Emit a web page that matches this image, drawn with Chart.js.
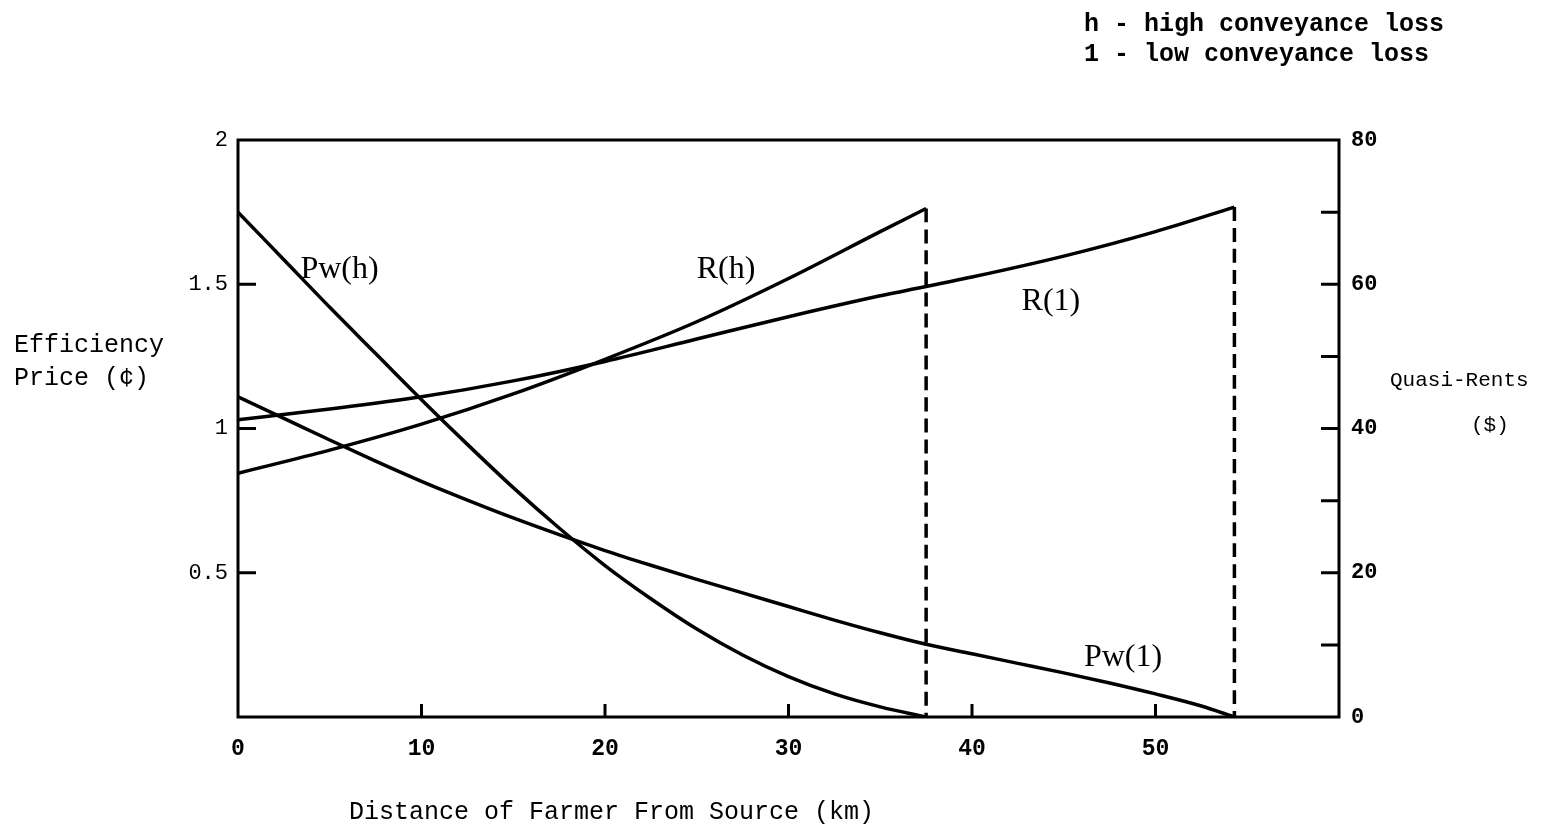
<!DOCTYPE html>
<html>
<head>
<meta charset="utf-8">
<script src="https://cdn.jsdelivr.net/npm/chart.js@4/dist/chart.umd.min.js"></script>
<style>
  html, body { margin: 0; padding: 0; background: #fff; }
  #wrap { width: 1563px; height: 828px; }
</style>
</head>
<body>
<div id="wrap"><canvas id="chart" width="1563" height="828"></canvas></div>
<script>
'use strict';

// distance (km) and efficiency price (cents)
const distancePwHigh = [0, 2.5, 5, 7.5, 10, 12.5, 15, 17.5, 20, 22.5, 25, 27.5, 30, 32.5, 35, 37.5];
const pwHigh = [1.75, 1.585, 1.42, 1.26, 1.10, 0.945, 0.795, 0.655, 0.525, 0.41, 0.305, 0.215, 0.14, 0.08, 0.035, 0];

const distancePwLow = [0, 2.5, 5, 7.5, 10, 12.5, 15, 17.5, 20, 22.5, 25, 27.5, 30, 32.5, 35, 37.5, 40, 42.5, 45, 47.5, 50, 52.5, 54.3];
const pwLow = [1.11, 1.035, 0.96, 0.887, 0.817, 0.752, 0.69, 0.632, 0.577, 0.526, 0.477, 0.43, 0.383, 0.336, 0.292, 0.252, 0.219, 0.186, 0.153, 0.118, 0.08, 0.038, 0];

// distance (km) and quasi-rents ($)
const distanceRentHigh = [0, 5, 10, 15, 20, 25, 30, 35, 37.5];
const rentHigh = [33.8, 37.0, 40.6, 44.8, 49.6, 54.8, 60.8, 67.3, 70.5];

const distanceRentLow = [0, 5, 10, 15, 20, 25, 30, 35, 40, 45, 50, 54.3];
const rentLow = [41.2, 42.7, 44.4, 46.6, 49.3, 52.4, 55.5, 58.4, 61.0, 63.9, 67.3, 70.7];

const xTicks = [0, 10, 20, 30, 40, 50];
const priceTicks = [0.5, 1, 1.5, 2];
const rentTicks = [0, 20, 40, 60, 80];
const rentMinorTicks = [10, 30, 50, 70];

const curveLabels = [
  { text: 'Pw(h)', x: 3.4, y: 1.55, axis: 'y' },
  { text: 'R(h)', x: 25.0, y: 1.55, axis: 'y' },
  { text: 'R(1)', x: 42.7, y: 1.44, axis: 'y' },
  { text: 'Pw(1)', x: 46.1, y: 0.205, axis: 'y' },
];

const INK = '#000';
const MONO = '"Liberation Mono", "DejaVu Sans Mono", monospace';
const SERIF = '"Liberation Serif", "DejaVu Serif", serif';

function toPoints(xs, ys) {
  return xs.map((x, i) => ({ x, y: ys[i] }));
}

function lineSet(label, xs, ys, axis, dashed) {
  return {
    label,
    data: toPoints(xs, ys),
    yAxisID: axis,
    borderColor: INK,
    borderWidth: 3.5,
    borderDash: dashed ? [14, 7] : [],
    pointRadius: 0,
    cubicInterpolationMode: 'monotone',
    fill: false,
  };
}

const cutHigh = distanceRentHigh[distanceRentHigh.length - 1];
const cutLow = distanceRentLow[distanceRentLow.length - 1];

const datasets = [
  lineSet('Pw(h)', distancePwHigh, pwHigh, 'y'),
  lineSet('Pw(l)', distancePwLow, pwLow, 'y'),
  lineSet('R(h)', distanceRentHigh, rentHigh, 'y1'),
  lineSet('R(l)', distanceRentLow, rentLow, 'y1'),
  lineSet('cut h', [cutHigh, cutHigh], [rentHigh[rentHigh.length - 1], 0], 'y1', true),
  lineSet('cut l', [cutLow, cutLow], [rentLow[rentLow.length - 1], 0], 'y1', true),
];

// frame, inward tick marks and free text
const decorations = {
  id: 'decorations',
  afterDraw(chart) {
    const { ctx, chartArea: a, scales } = chart;
    ctx.save();
    ctx.strokeStyle = INK;
    ctx.lineWidth = 3;
    ctx.strokeRect(a.left, a.top, a.right - a.left, a.bottom - a.top);

    ctx.beginPath();
    for (const v of priceTicks.slice(0, -1)) {
      const y = scales.y.getPixelForValue(v);
      ctx.moveTo(a.left, y);
      ctx.lineTo(a.left + 18, y);
    }
    for (const v of rentTicks.slice(1, -1).concat(rentMinorTicks)) {
      const y = scales.y1.getPixelForValue(v);
      ctx.moveTo(a.right, y);
      ctx.lineTo(a.right - 18, y);
    }
    for (const v of xTicks.slice(1)) {
      const x = scales.x.getPixelForValue(v);
      ctx.moveTo(x, a.bottom);
      ctx.lineTo(x, a.bottom - 13);
    }
    ctx.stroke();

    ctx.fillStyle = INK;
    ctx.textBaseline = 'middle';
    ctx.textAlign = 'left';
    ctx.font = `32px ${SERIF}`;
    for (const l of curveLabels) {
      ctx.fillText(l.text, scales.x.getPixelForValue(l.x), scales[l.axis].getPixelForValue(l.y));
    }

    ctx.font = `25px ${MONO}`;
    ctx.fillText('Efficiency', 14, 345);
    ctx.fillText('Price (\u00a2)', 14, 378);
    ctx.fillText('Distance of Farmer From Source (km)', 349, 812);

    ctx.font = `21px ${MONO}`;
    ctx.fillText('Quasi-Rents', 1390, 380);
    ctx.fillText('($)', 1471, 425);

    ctx.font = `bold 25px ${MONO}`;
    ctx.fillText('h - high conveyance loss', 1084, 25);
    ctx.fillText('1 - low conveyance loss', 1084, 55);
    ctx.restore();
  },
};

new Chart(document.getElementById('chart'), {
  type: 'line',
  data: { datasets },
  plugins: [decorations],
  options: {
    responsive: false,
    animation: false,
    layout: { padding: { top: 140, left: 0, right: 0, bottom: 0 } },
    plugins: { legend: { display: false }, tooltip: { enabled: false } },
    scales: {
      x: {
        type: 'linear',
        min: 0,
        max: 60,
        afterFit: (s) => { s.height = 828 - 717; },
        afterBuildTicks: (s) => { s.ticks = xTicks.concat([60]).map((v) => ({ value: v })); },
        ticks: {
          color: INK,
          padding: 18,
          font: { family: MONO, size: 23, weight: 'bold' },
          maxRotation: 0,
          callback: (v) => (xTicks.includes(v) ? String(v) : ''),
        },
        grid: { display: false, drawTicks: false },
        border: { display: false },
      },
      y: {
        position: 'left',
        min: 0,
        max: 2,
        afterFit: (s) => { s.width = 238; },
        afterBuildTicks: (s) => { s.ticks = priceTicks.map((v) => ({ value: v })); },
        ticks: {
          color: INK,
          padding: 10,
          font: { family: MONO, size: 22 },
          callback: (v) => String(v),
        },
        grid: { display: false, drawTicks: false },
        border: { display: false },
      },
      y1: {
        position: 'right',
        min: 0,
        max: 80,
        afterFit: (s) => { s.width = 1563 - 1339; },
        afterBuildTicks: (s) => { s.ticks = rentTicks.map((v) => ({ value: v })); },
        ticks: {
          color: INK,
          padding: 12,
          font: { family: MONO, size: 22, weight: 'bold' },
          callback: (v) => String(v),
        },
        grid: { display: false, drawTicks: false },
        border: { display: false },
      },
    },
  },
});
</script>
</body>
</html>
